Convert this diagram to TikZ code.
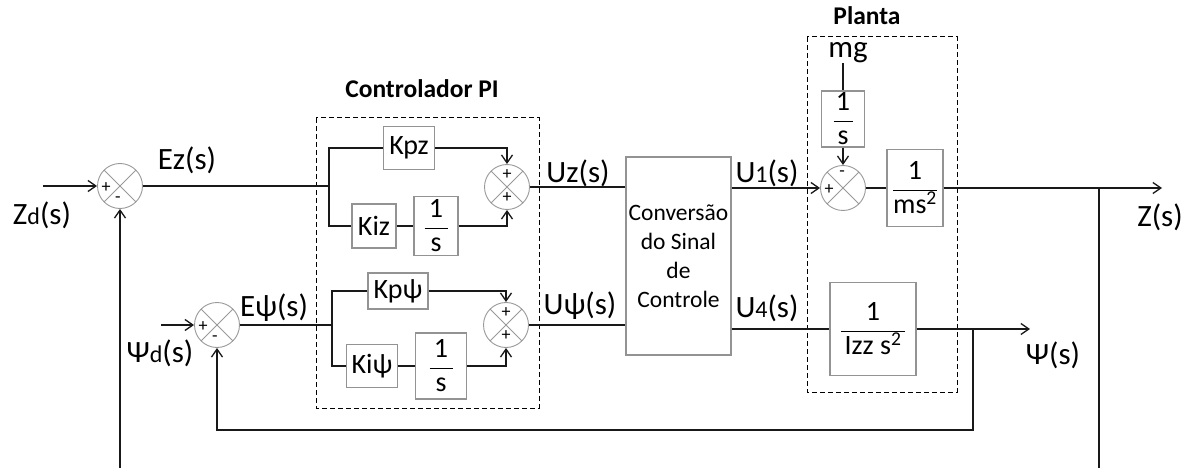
\documentclass[tikz,border=0pt]{standalone}
\usepackage{fontspec}
\setmainfont{Carlito}
\usetikzlibrary{arrows.meta}
\newcommand{\sm}[1]{{\fontsize{24}{26}\selectfont #1}}
\newcommand{\fr}[3]{$\displaystyle\frac{\makebox[#1]{#2}}{\mbox{#3}}$}
\begin{document}
\begin{tikzpicture}[x=1pt,y=-1pt,
 sig/.style={line width=1.6pt, draw=black!90},
 arr/.style={sig,-{Straight Barb[length=8pt,width=11pt,line width=1.3pt]}},
 blk/.style={draw=gray!85, line width=1.3pt, fill=white, inner sep=0pt, font=\fontsize{28}{30}\selectfont},
 sumr/.style={circle, draw=gray!80, line width=0.9pt, minimum size=45pt, inner sep=0pt, fill=white,
   path picture={\draw[gray!80,line width=0.9pt] (path picture bounding box.north west)--(path picture bounding box.south east) (path picture bounding box.north east)--(path picture bounding box.south west);}},
 sgn/.style={font=\fontsize{18}{18}\selectfont, inner sep=0pt},
 lbl/.style={font=\fontsize{31}{33}\selectfont, inner sep=0pt},
 grp/.style={draw=black, line width=1pt, dash pattern=on 5pt off 3pt},
 ttl/.style={font=\bfseries\fontsize{25.5}{27}\selectfont, inner sep=0pt},
]
\useasboundingbox (0,0) rectangle (1192,468);

% group frames
\draw[grp] (316,118) rectangle (539,408);
\draw[grp] (807,37) rectangle (957,392);
\node[ttl] (tPI) at (422,89) {Controlador PI};
\node[ttl] (tPl) at (867,16) {Planta};

% summers
\node[sumr] (sZ) at (120,186) {};
\node[sumr] (sP) at (217,325) {};
\node[sumr] (sUz) at (507,187) {};
\node[sumr] (sUp) at (506,325) {};
\node[sumr] (sPl) at (843,188) {};
\node[sgn] (sZa) at (106,188) {+};
\node[sgn] (sZb) at (118,200) {-};
\node[sgn] (sPa) at (203,327) {+};
\node[sgn] (sPb) at (215,339) {-};
\node[sgn] (sUza) at (507,175) {+};
\node[sgn] (sUzb) at (507,198) {+};
\node[sgn] (sUpa) at (506,313) {+};
\node[sgn] (sUpb) at (506,336) {+};
\node[sgn] (sPla) at (829,190) {+};
\node[sgn] (sPlb) at (842,174) {-};

% blocks
\node[blk, minimum width=51pt, minimum height=43pt] (Kpz) at (409,148) {Kpz};
\node[blk, minimum width=44pt, minimum height=44pt] (Kiz) at (374,226) {Kiz};
\node[blk, minimum width=44pt, minimum height=59pt] (Iz) at (436,226) {\fr{23pt}{1}{s}};
\node[blk, minimum width=60pt, minimum height=36pt] (Kpp) at (398,291) {Kpψ};
\node[blk, minimum width=51pt, minimum height=43pt] (Kip) at (372,366) {Kiψ};
\node[blk, minimum width=51pt, minimum height=66pt] (Ip) at (441,366) {\fr{23pt}{1}{s}};
\node[blk, minimum width=105pt, minimum height=198pt, font=\fontsize{23.5}{29}\selectfont, align=center] (conv) at (678.5,256) {Conversão\\do Sinal\\de\\Controle};
\node[blk, minimum width=43pt, minimum height=56pt] (Ig) at (843,119) {\fr{19pt}{1}{s}};
\node[blk, minimum width=56pt, minimum height=77pt] (G1) at (915,188) {\fr{44pt}{1}{ms\textsuperscript{2}}};
\node[blk, minimum width=86pt, minimum height=93pt] (G2) at (873,329) {\fr{64pt}{1}{Izz s\textsuperscript{2}}};

% labels
\node[lbl] (lZd) at (42,215) {Z\sm{d}(s)};
\node[lbl] (lEz) at (187,160) {Ez(s)};
\node[lbl] (lEp) at (274,308) {Eψ(s)};
\node[lbl] (lPd) at (160,353) {Ψ\sm{d}(s)};
\node[lbl] (lUz) at (578,173) {Uz(s)};
\node[lbl] (lUp) at (580,306) {Uψ(s)};
\node[lbl] (lU1) at (767,173) {U\sm{1}(s)};
\node[lbl] (lU4) at (767,308) {U\sm{4}(s)};
\node[lbl] (lZ) at (1160,217) {Z(s)};
\node[lbl] (lP) at (1053,355) {Ψ(s)};
\node[lbl] (mg) at (848,53) {mg};

% coordinates
\coordinate (inZ) at (43,186);
\coordinate (inP) at (161,325);
\coordinate (sp1) at (329,186);
\coordinate (sp2) at (332,325);
\coordinate (outZ) at (1162,188);
\coordinate (brZ) at (1099,188);
\coordinate (botR) at (1099,468);
\coordinate (botL) at (120,468);
\coordinate (outP) at (1030,329);
\coordinate (brP) at (973,329);
\coordinate (fbP) at (973,430);

% connectors
\draw[arr] (inZ) -- (sZ.west);
\draw[sig] (sZ.east) -- (sp1);
\draw[sig] (Kpz.west) -| (sp1) |- (Kiz.west);
\draw[sig] (Kiz.east) -- (Iz.west);
\draw[arr] (Kpz.east) -| (sUz.north);
\draw[arr] (Iz.east) -| (sUz.south);
\draw[sig] (sUz.east) -- (conv.west |- sUz);

\draw[arr] (inP) -- (sP.west);
\draw[sig] (sP.east) -- (sp2);
\draw[sig] (Kpp.west) -| (sp2) |- (Kip.west);
\draw[sig] (Kip.east) -- (Ip.west);
\draw[arr] (Kpp.east) -| (sUp.north);
\draw[arr] (Ip.east) -| (sUp.south);
\draw[sig] (sUp.east) -- (conv.west |- sUp);

\draw[arr] (conv.east |- sPl) -- (sPl.west);
\draw[sig] (conv.east |- G2) -- (G2.west);
\draw[sig] (Ig.north |- mg.south) -- (Ig.north);
\draw[arr] (Ig.south) -- (sPl.north);
\draw[sig] (sPl.east) -- (G1.west);
\draw[arr] (G1.east) -- (outZ);
\draw[sig] (brZ) -- (botR);
\draw[arr] (botL) -- (sZ.south);
\draw[arr] (G2.east) -- (outP);
\draw[arr] (brP) -- (fbP) -| (sP.south);
\end{tikzpicture}
\end{document}
